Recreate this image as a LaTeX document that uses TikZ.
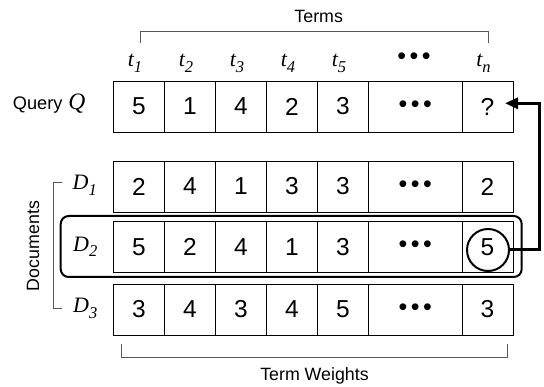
\documentclass[tikz,border=0pt]{standalone}
\usepackage{fontspec}
\setmainfont{Liberation Serif}
\setsansfont{Liberation Sans}
\usetikzlibrary{arrows.meta}
% italic label with a lowered italic index, e.g. t_1, D_2
\newcommand\wlbl[2]{{\fontsize{22}{22}\selectfont\itshape #1\raisebox{-5.5pt}{\fontsize{16.5}{16.5}\selectfont #2}}}
% the "and so on" mark used in the header and in the cells
\newcommand\ddd{{\sffamily\fontsize{25}{25}\selectfont •\kern3.6pt•\kern3.6pt•}}

\begin{document}
\begin{tikzpicture}[x=1pt,y=-1pt,
  cell/.style={draw, line width=0.8pt, minimum height=51pt, inner sep=0pt,
    font=\sffamily\fontsize{24.5}{24.5}\selectfont},
  lbl/.style={inner sep=0pt, anchor=base},
  caption/.style={inner sep=0pt, font=\sffamily\fontsize{17.8}{17.8}\selectfont},
  bracket/.style={line width=0.9pt, black!65},
  flow/.style={line width=3pt, -{Triangle[length=13pt,width=11pt]}}]
\useasboundingbox (0,0) rectangle (544,387);

% header: term names above the columns
\node[caption, anchor=base] (terms) at (318.7,22.7) {Terms};
\draw[bracket] (140,43) -- (140,31) -- (488.7,31) -- (488.7,43);
\foreach \x/\n in {135/1,186/2,237/3,288/4,339/5,483.5/n}
  \node[lbl] (t\n) at (\x,66.7) {\wlbl{t}{\n}};
\node[inner sep=0pt] (tdots) at (414,58.3) {\ddd};

% query row
\node[inner sep=0pt, anchor=base west] (qlabel) at (12.7,110)
  {{\sffamily\fontsize{18.2}{18.2}\selectfont Query}\hspace{6pt}{\fontsize{23.5}{23.5}\selectfont\itshape Q}};
\foreach \x/\w/\v [count=\i] in {139/51/5,190/51/1,241/51/4,292/51/2,343/51/3,415.25/93.5/\ddd,487.5/51/?}
  \node[cell, minimum width=\w] (q\i) at (\x,106.5) {\v};

% document rows
\foreach \x/\w/\v [count=\i] in {139/51/2,190/51/4,241/51/1,292/51/3,343/51/3,415.25/93.5/\ddd,487.5/51/2}
  \node[cell, minimum width=\w] (a\i) at (\x,186.5) {\v};
\foreach \x/\w/\v [count=\i] in {139/51/5,190/51/2,241/51/4,292/51/1,343/51/3,415.25/93.5/\ddd,487.5/51/5}
  \node[cell, minimum width=\w] (b\i) at (\x,247) {\v};
\foreach \x/\w/\v [count=\i] in {139/51/3,190/51/4,241/51/3,292/51/4,343/51/5,415.25/93.5/\ddd,487.5/51/3}
  \node[cell, minimum width=\w] (c\i) at (\x,309.5) {\v};

\node[lbl, anchor=base west] (d1) at (72.5,190) {\wlbl{D}{1}};
\node[lbl, anchor=base west] (d2) at (73,251.5) {\wlbl{D}{2}};
\node[lbl, anchor=base west] (d3) at (73,313) {\wlbl{D}{3}};

% documents bracket and caption
\draw[bracket] (62,182) -- (53.3,182) -- (53.3,308) -- (62,308);
\node[caption, rotate=90] (docs) at (33,246) {Documents};

% weights bracket and caption
\draw[bracket] (121.7,344) -- (121.7,357) -- (507,357) -- (507,344);
\node[caption, anchor=base] (weights) at (314.5,381) {Term Weights};

% highlighted document and the weight carried over to the query
\node[draw, line width=2pt, rounded corners=8pt, minimum width=461pt, minimum height=61pt] (sel) at (291.2,246.5) {};
\node[draw, circle, line width=2pt, minimum size=42pt, inner sep=0pt] (circ) at (488,250) {};
\coordinate (turn) at (539,103.3);
\coordinate (qtip) at (505,103.3);
\draw[flow] (circ.east) -| (turn) -- (qtip);
\end{tikzpicture}
\end{document}
